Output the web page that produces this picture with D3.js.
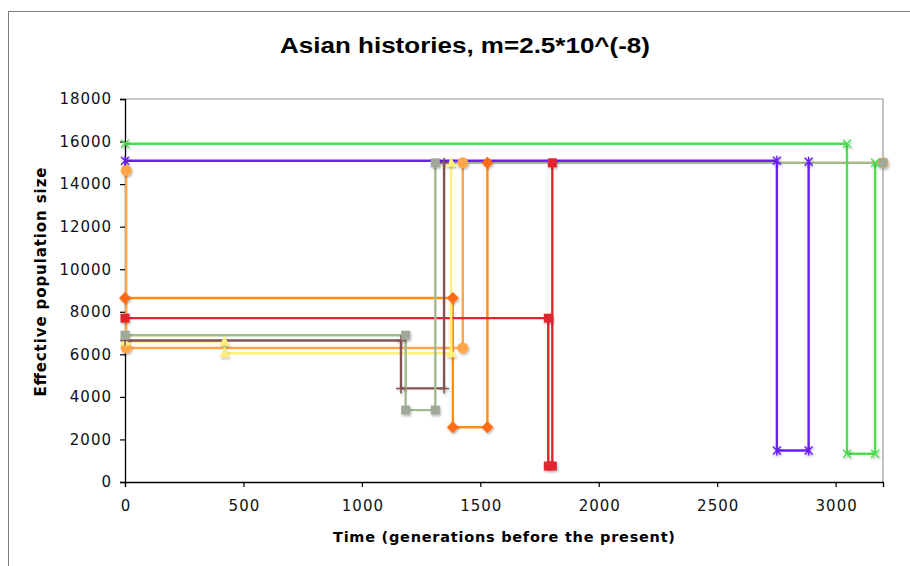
<!DOCTYPE html>
<html>
<head>
<meta charset="utf-8">
<script src="https://cdn.jsdelivr.net/npm/d3@7"></script>
<style>
  body { margin: 0; background: #fff; }
  svg { display: block; }
</style>
</head>
<body>
<svg id="chart" width="910" height="566"></svg>
<script>
// step histories: time (generations before present) and effective population size
const ltOrangeT = [5, 5, 1426, 1426, 3200];
const ltOrangeN = [14650, 6300, 6300, 15000, 15000];
const dkOrangeT = [0, 1384, 1384, 1530, 1530];
const dkOrangeN = [8650, 8650, 2570, 2570, 15000];
const redT = [0, 1787, 1787, 1804, 1804];
const redN = [7700, 7700, 750, 750, 15000];
const yellowT = [0, 420, 420, 1377, 1377];
const yellowN = [6600, 6600, 6050, 6050, 15000];
const brownT = [0, 1165, 1165, 1347, 1347];
const brownN = [6650, 6650, 4400, 4400, 15000];
const sageT = [0, 1185, 1185, 1310, 1310, 3200];
const sageN = [6900, 6900, 3380, 3380, 15000, 15000];
const purpleT = [0, 2752, 2752, 2886, 2886];
const purpleN = [15100, 15100, 1480, 1480, 15050];
const greenT = [0, 3048, 3048, 3167, 3167];
const greenN = [15900, 15900, 1330, 1330, 15000];

const xTicks = [0, 500, 1000, 1500, 2000, 2500, 3000];
const yTicks = [0, 2000, 4000, 6000, 8000, 10000, 12000, 14000, 16000, 18000];

const series = [
  { t: ltOrangeT, n: ltOrangeN, color: "#ffa64a", mark: "circle", mcolor: "#ffa64a" },
  { t: dkOrangeT, n: dkOrangeN, color: "#ff8f10", mark: "diamond", mcolor: "#ff6a12" },
  { t: redT, n: redN, color: "#e0262e", mark: "square", mcolor: "#e0262e" },
  { t: yellowT, n: yellowN, color: "#fff07c", mark: "triangle", mcolor: "#fff07c" },
  { t: brownT, n: brownN, color: "#855252", mark: "plus", mcolor: "#855252" },
  { t: sageT, n: sageN, color: "#9fbb8f", mark: "square", mcolor: "#a0a89a" },
  { t: purpleT, n: purpleN, color: "#6a1fff", mark: "star", mcolor: "#6a1fff" },
  { t: greenT, n: greenN, color: "#4ddf4d", mark: "x", mcolor: "#4ddf4d" }
];

const svg = d3.select("#chart");

const defs = svg.append("defs");
const f = defs.append("filter").attr("id", "shadow")
  .attr("x", "-50%").attr("y", "-50%").attr("width", "200%").attr("height", "200%");
f.append("feDropShadow").attr("dx", 1).attr("dy", 1.5)
  .attr("stdDeviation", 0.8).attr("flood-color", "#000").attr("flood-opacity", 0.3);

// outer chart frame
svg.append("rect")
  .attr("x", 8.5).attr("y", 11.5)
  .attr("width", 1000).attr("height", 1000)
  .attr("fill", "none").attr("stroke", "#7a7a7a");

const x = d3.scaleLinear().domain([0, 3200]).range([125, 883]);
const y = d3.scaleLinear().domain([0, 18000]).range([482, 99]);

// plot area frame (top/right grey)
svg.append("path")
  .attr("d", `M${x(0)},${y(18000)}H${x(3200)}V${y(0)}`)
  .attr("fill", "none").attr("stroke", "#9a9a9a").attr("stroke-width", 1.2);

svg.append("text")
  .attr("x", 465).attr("y", 53)
  .attr("text-anchor", "middle")
  .attr("textLength", 370)
  .attr("lengthAdjust", "spacingAndGlyphs")
  .style("font-family", "Liberation Sans, Arial, sans-serif")
  .style("font-weight", "bold")
  .style("font-size", "22px")
  .text("Asian histories, m=2.5*10^(-8)");

const xAxis = svg.append("g")
  .attr("transform", `translate(0,${y(0)})`)
  .call(d3.axisBottom(x).tickValues(xTicks).tickSize(5).tickPadding(13).tickFormat(d3.format("d")));
const yAxis = svg.append("g")
  .attr("transform", `translate(${x(0)},0)`)
  .call(d3.axisLeft(y).tickValues(yTicks).tickSize(5).tickPadding(9).tickFormat(d3.format("d")));

[xAxis, yAxis].forEach(g => {
  g.select(".domain").attr("stroke", "#000").attr("stroke-width", 1.3);
  g.selectAll(".tick line").attr("stroke", "#000").attr("stroke-width", 1.2);
  g.selectAll(".tick text")
    .style("font-family", "DejaVu Sans, Verdana, sans-serif")
    .style("font-size", "15px")
    .attr("fill", "#111")
    .attr("textLength", d => String(d).length * 10.3);
});

svg.append("text")
  .attr("x", 504).attr("y", 542)
  .attr("text-anchor", "middle")
  .attr("textLength", 342)
  .style("font-family", "DejaVu Sans, Verdana, sans-serif")
  .style("font-weight", "bold")
  .style("font-size", "14.5px")
  .text("Time (generations before the present)");

svg.append("text")
  .attr("transform", "translate(46,282) rotate(-90)")
  .attr("text-anchor", "middle")
  .attr("textLength", 229)
  .style("font-family", "DejaVu Sans, Verdana, sans-serif")
  .style("font-weight", "bold")
  .style("font-size", "15px")
  .text("Effective population size");

const line = d3.line().x(d => x(d[0])).y(d => y(d[1]));

const pts = s => s.t.map((t, i) => [t, s.n[i]]);

svg.append("g").selectAll("path")
  .data(series)
  .join("path")
  .attr("d", s => line(pts(s)))
  .attr("fill", "none")
  .attr("stroke", s => s.color)
  .attr("stroke-width", 2.4)
  .attr("stroke-linejoin", "miter");

function drawMarker(g, kind, c) {
  if (kind === "circle") {
    g.append("circle").attr("r", 5.5).attr("fill", c);
  } else if (kind === "diamond") {
    g.append("path").attr("d", "M0,-6L6,0L0,6L-6,0Z").attr("fill", c);
  } else if (kind === "square") {
    g.append("rect").attr("x", -4.5).attr("y", -4.5).attr("width", 9).attr("height", 9).attr("fill", c);
  } else if (kind === "triangle") {
    g.append("path").attr("d", "M0,-5.5L5,4L-5,4Z").attr("fill", c);
  } else if (kind === "plus") {
    g.append("path").attr("d", "M-5,0H5M0,-5V5").attr("stroke", c).attr("stroke-width", 1.5);
  } else if (kind === "x") {
    g.append("path").attr("d", "M-4,-4L4,4M-4,4L4,-4").attr("stroke", c).attr("stroke-width", 1.5);
  } else if (kind === "star") {
    g.append("path").attr("d", "M-4,-4L4,4M-4,4L4,-4M0,-5V5").attr("stroke", c).attr("stroke-width", 1.5);
  }
}

const markers = svg.append("g").attr("filter", "url(#shadow)");
series.forEach(s => {
  pts(s).forEach(p => {
    const g = markers.append("g").attr("transform", `translate(${x(p[0])},${y(p[1])})`);
    drawMarker(g, s.mark, s.mcolor);
  });
});
</script>
</body>
</html>
